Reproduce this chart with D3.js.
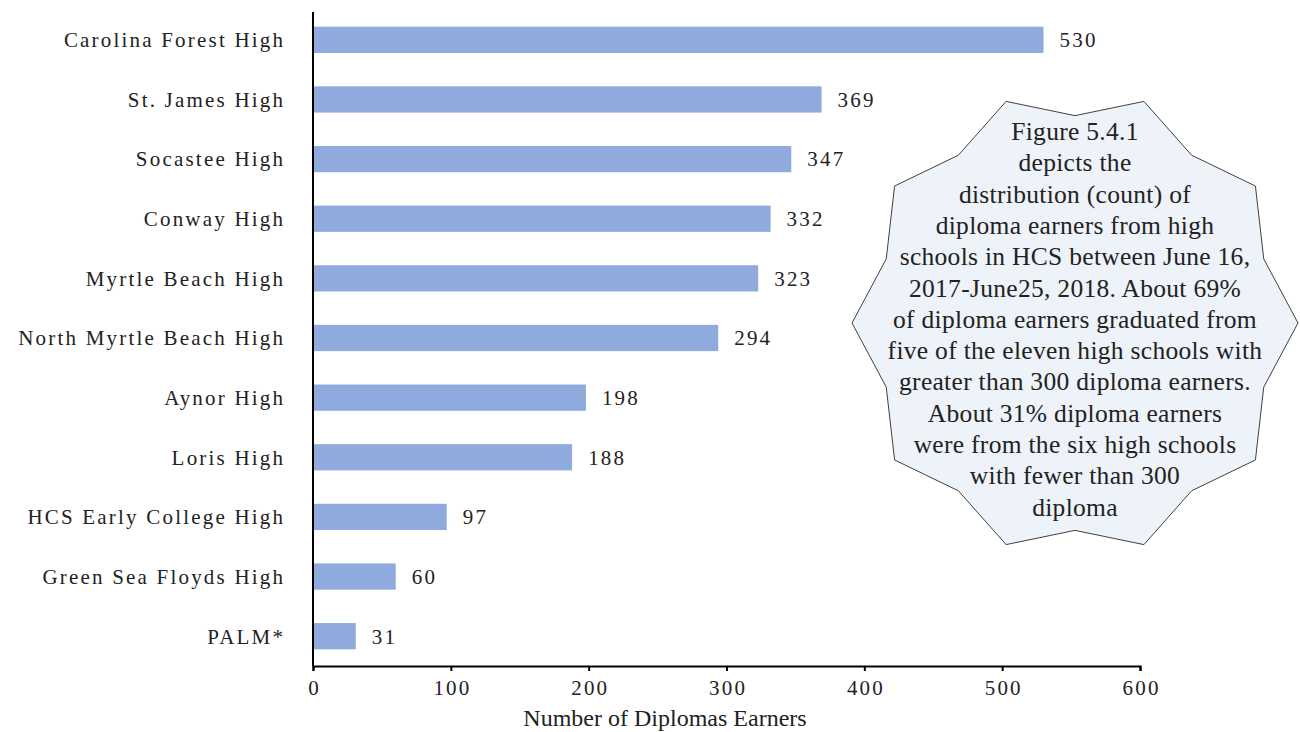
<!DOCTYPE html>
<html>
<head>
<meta charset="utf-8">
<script src="https://cdn.jsdelivr.net/npm/d3@7"></script>
<style>
body { margin: 0; background: #fff; }
text { font-family: "Liberation Serif", "Times New Roman", serif; fill: #222; }
</style>
</head>
<body>
<svg width="1300" height="732"></svg>
<script>
// data
var schools = ["Carolina Forest High", "St. James High", "Socastee High", "Conway High",
  "Myrtle Beach High", "North Myrtle Beach High", "Aynor High", "Loris High",
  "HCS Early College High", "Green Sea Floyds High", "PALM*"];
var earners = [530, 369, 347, 332, 323, 294, 198, 188, 97, 60, 31];
var xTicks = [0, 100, 200, 300, 400, 500, 600];
var xTitle = "Number of Diplomas Earners";
var noteLines = ["Figure 5.4.1", "depicts the", "distribution (count) of",
  "diploma earners from high", "schools in HCS between June 16,",
  "2017-June25, 2018. About 69%", "of diploma earners graduated from",
  "five of the eleven high schools with", "greater than 300 diploma earners.",
  "About 31% diploma earners", "were from the six high schools",
  "with fewer than 300", "diploma"];

var svg = d3.select("svg");
var margin = {left: 313, right: 160, top: 10, bottom: 66};
var ls = 2.2; // wide letter spacing like the original

var x = d3.scaleLinear().domain([0, 600]).range([margin.left, 1300 - margin.right]);
var y = d3.scaleBand().domain(schools).range([margin.top, 732 - margin.bottom])
  .paddingInner(0.56).paddingOuter(0.28);

// bars
svg.selectAll(".bar")
  .data(schools)
  .enter().append("rect")
  .attr("class", "bar")
  .attr("x", x(0))
  .attr("y", function(d) { return y(d); })
  .attr("width", function(d, i) { return x(earners[i]) - x(0); })
  .attr("height", y.bandwidth())
  .attr("fill", "#8faadc");

// value labels
svg.selectAll(".val")
  .data(schools)
  .enter().append("text")
  .attr("class", "val")
  .attr("x", function(d, i) { return x(earners[i]) + 16; })
  .attr("y", function(d) { return y(d) + y.bandwidth() / 2; })
  .attr("dy", "0.35em")
  .style("font-size", "21px")
  .style("letter-spacing", ls + "px")
  .text(function(d, i) { return earners[i]; });

// category labels
svg.selectAll(".cat")
  .data(schools)
  .enter().append("text")
  .attr("class", "cat")
  .attr("x", margin.left - 30 + ls)
  .attr("y", function(d) { return y(d) + y.bandwidth() / 2; })
  .attr("dy", "0.35em")
  .attr("text-anchor", "end")
  .style("font-size", "21px")
  .style("letter-spacing", ls + "px")
  .text(function(d) { return d; });

// x axis
var xAxis = svg.append("g")
  .attr("transform", "translate(0," + (732 - margin.bottom) + ")")
  .call(d3.axisBottom(x).tickValues(xTicks).tickSize(5).tickSizeOuter(5).tickPadding(9));
xAxis.select(".domain").attr("stroke", "#000").attr("stroke-width", 2);
xAxis.selectAll(".tick line").attr("stroke", "#000").attr("stroke-width", 2);
xAxis.selectAll(".tick text")
  .style("font-family", "'Liberation Serif', serif")
  .style("font-size", "21px")
  .style("letter-spacing", ls + "px")
  .attr("dx", ls / 2)
  .attr("fill", "#222");

// y axis line
svg.append("line")
  .attr("x1", x(0)).attr("x2", x(0))
  .attr("y1", margin.top + 2).attr("y2", 732 - margin.bottom)
  .attr("stroke", "#000").attr("stroke-width", 2);

svg.append("text")
  .attr("x", 665)
  .attr("y", 726)
  .attr("text-anchor", "middle")
  .style("font-size", "24px")
  .text(xTitle);

// callout star (10 points)
var cx = 1075, cy = 323, rx = 223, ry = 233, inner = 0.89;
var pts = [];
for (var k = 0; k < 20; k++) {
  var a = k * Math.PI / 10;
  var r = k % 2 === 0 ? 1 : inner;
  pts.push([cx + Math.cos(a) * rx * r, cy - Math.sin(a) * ry * r]);
}
svg.append("polygon")
  .attr("points", pts.map(function(p) { return p.join(","); }).join(" "))
  .attr("fill", "#edf3f9")
  .attr("stroke", "#404040")
  .attr("stroke-width", 1);

svg.append("g").selectAll("text")
  .data(noteLines)
  .enter().append("text")
  .attr("x", cx)
  .attr("y", function(d, i) { return 140 + i * 31.3; })
  .attr("text-anchor", "middle")
  .style("font-size", "25.5px")
  .style("letter-spacing", "0.3px")
  .text(function(d) { return d; });
</script>
</body>
</html>
